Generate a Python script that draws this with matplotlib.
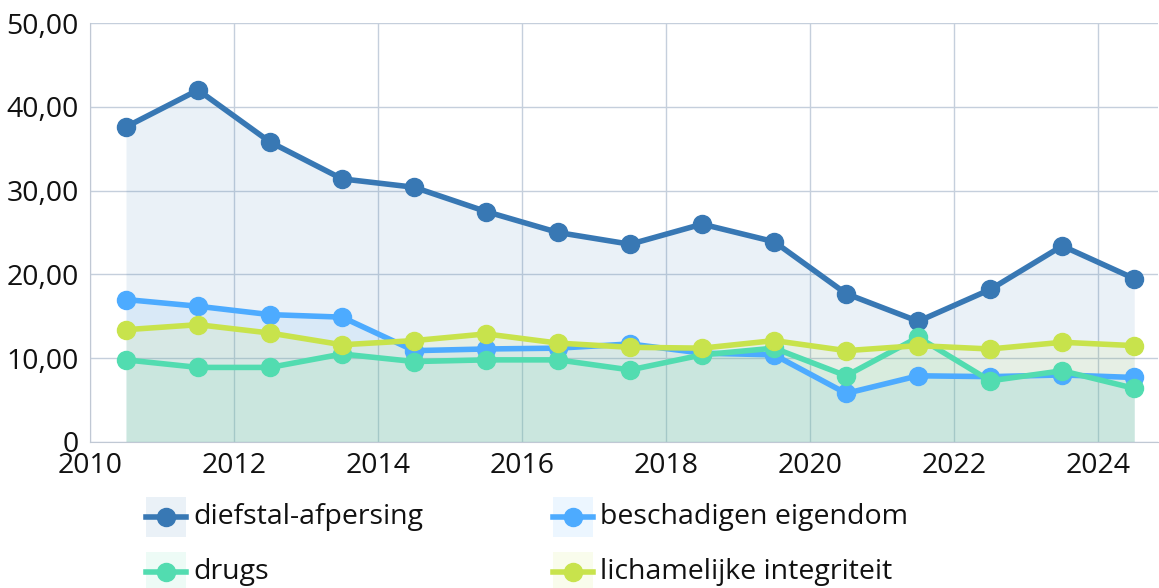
import matplotlib
matplotlib.use("Agg")
from matplotlib import pyplot as plt
from matplotlib.patches import Rectangle
from matplotlib.lines import Line2D

plt.rcParams['font.family'] = ['Open Sans', 'DejaVu Sans']

years = [2010.5, 2011.5, 2012.5, 2013.5, 2014.5, 2015.5, 2016.5, 2017.5,
         2018.5, 2019.5, 2020.5, 2021.5, 2022.5, 2023.5, 2024.5]

diefstal = [37.6, 42.0, 35.8, 31.4, 30.4, 27.5, 25.0, 23.6, 26.0, 23.9, 17.7, 14.4, 18.2, 23.4, 19.5]
beschadigen = [17.0, 16.2, 15.2, 14.9, 10.9, 11.1, 11.2, 11.7, 10.6, 10.4, 5.8, 7.9, 7.8, 8.0, 7.7]
drugs = [9.8, 8.9, 8.9, 10.5, 9.6, 9.8, 9.8, 8.6, 10.4, 11.2, 7.9, 12.5, 7.3, 8.5, 6.4]
lichamelijk = [13.4, 14.0, 13.0, 11.6, 12.1, 12.9, 11.8, 11.3, 11.2, 12.1, 10.9, 11.5, 11.1, 11.9, 11.5]

names = ['diefstal-afpersing', 'beschadigen eigendom', 'drugs', 'lichamelijke integriteit']
series = [diefstal, beschadigen, drugs, lichamelijk]
colors = ['#3878b4', '#4dabff', '#52dcb0', '#c8e34c']

yticks = [0, 10, 20, 30, 40, 50]
ytick_labels = ['0', '10,00', '20,00', '30,00', '40,00', '50,00']
xticks = [2010, 2012, 2014, 2016, 2018, 2020, 2022, 2024]

fig = plt.figure(figsize=(11.59, 5.88), dpi=100)
ax = fig.add_axes([90/1159, 146/588, 1068/1159, 419/588])

# light area under each series
for vals, col in zip(series, colors):
    ax.fill_between(years, vals, 0, color=col, alpha=0.1, linewidth=0, zorder=1)
for vals, col in zip(series, colors):
    ax.plot(years, vals, color=col, linewidth=4, marker='o', markersize=13,
            zorder=3, solid_joinstyle='round')

ax.set_xlim(2010, 2024.83)
ax.set_ylim(0, 50)
ax.set_xticks(xticks)
ax.set_xticklabels([str(x) for x in xticks])
ax.set_yticks(yticks)
ax.set_yticklabels(ytick_labels)
ax.tick_params(length=0, labelsize=20.5, colors='#111111')
ax.tick_params(axis='y', pad=8)
ax.tick_params(axis='x', pad=7)
ax.grid(True, color='#c5cfdc', linewidth=1, zorder=0)
ax.set_axisbelow(True)
for s in ['top', 'right']:
    ax.spines[s].set_visible(False)
for s in ['left', 'bottom']:
    ax.spines[s].set_color('#c0c8d4')

# legend drawn in figure pixel space
lg = fig.add_axes([0, 0, 1, 1], zorder=-1)
lg.set_xlim(0, 1159)
lg.set_ylim(588, 0)
lg.axis('off')
pos = [(146, 517), (553, 517), (146, 572), (553, 572)]
for (px, py), name, col in zip(pos, names, colors):
    lg.add_patch(Rectangle((px, py - 20), 40, 40, color=col, alpha=0.1, linewidth=0))
    lg.add_line(Line2D([px, px + 40], [py, py], color=col, linewidth=4))
    lg.add_line(Line2D([px + 20], [py], color=col, marker='o', markersize=13))
    lg.text(px + 47, py, name, fontsize=20.5, va='center', ha='left', color='#111111')

fig.savefig('out.png', dpi=100)
